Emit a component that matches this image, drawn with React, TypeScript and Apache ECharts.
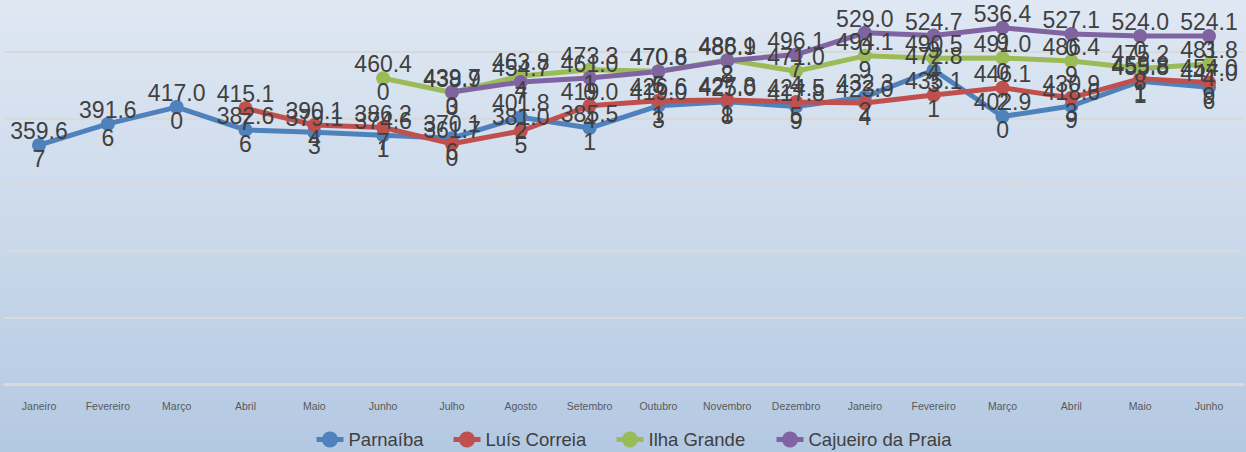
import React, { useEffect, useRef } from "react";
import * as echarts from "echarts";

const categories = [
  "Janeiro", "Fevereiro", "Março", "Abril", "Maio", "Junho", "Julho", "Agosto", "Setembro",
  "Outubro", "Novembro", "Dezembro", "Janeiro", "Fevereiro", "Março", "Abril", "Maio", "Junho",
];

const parnaiba = [359.67, 391.66, 417.0, 382.66, 379.13, 374.61, 370.16, 401.82, 385.51, 419.03, 425.08, 417.89, 432.32, 472.83, 402.9, 418.69, 455.81, 447.06];
const luisCorreia = [null, null, null, 415.17, 390.14, 386.27, 361.7, 381.05, 419.04, 426.61, 427.81, 424.55, 423.04, 435.11, 446.12, 430.93, 459.81, 454.09];
const ilhaGrande = [null, null, null, null, null, 460.4, 438.93, 463.84, 473.31, 470.86, 488.12, 471.04, 494.19, 490.54, 491.0, 486.49, 475.28, 481.84];
const cajueiro = [null, null, null, null, null, null, 439.7, 454.77, 461.0, 470.65, 486.98, 496.17, 529.0, 524.79, 536.49, 527.1, 524.0, 524.13];

const seriesNames = ["Parnaíba", "Luís Correia", "Ilha Grande", "Cajueiro da Praia"];
const seriesColors = ["#4F81BD", "#C0504D", "#9BBB59", "#8064A2"];
const seriesData = [parnaiba, luisCorreia, ilhaGrande, cajueiro];
const legendLefts = [314, 451, 614, 774];

const sans = "'Liberation Sans', Arial, sans-serif";
const OFFSET = 15; // chart canvas starts above the page so the 600 gridline is hidden

export default function App() {
  const ref = useRef<HTMLDivElement>(null);
  useEffect(() => {
    if (!ref.current) return;
    const chart = echarts.init(ref.current, null, { renderer: "svg" });
    chart.setOption({
      animation: false,
      grid: { left: 4.6, right: 2.6, top: 0.6, bottom: 68 },
      legend: seriesNames.map((n, i) => ({
        data: [n],
        left: legendLefts[i],
        top: 430 + OFFSET,
        padding: 0,
        itemWidth: 27,
        itemHeight: 20,
        itemGap: 6,
        lineStyle: { width: 5 },
        textStyle: { fontFamily: sans, fontSize: 18.5, color: "#404040" },
      })),
      xAxis: {
        type: "category",
        data: categories,
        boundaryGap: true,
        axisTick: { show: false },
        axisLine: { show: true, lineStyle: { color: "#d9d9d9", width: 3 } },
        axisLabel: { fontFamily: sans, fontSize: 10.5, color: "#595959", margin: 16, interval: 0 },
      },
      yAxis: {
        type: "value",
        min: 0,
        max: 600,
        interval: 100,
        axisLabel: { show: false },
        axisLine: { show: false },
        axisTick: { show: false },
        splitLine: { lineStyle: { color: "#d9d9d9", width: 2 } },
      },
      series: seriesData.map((d, i) => ({
        name: seriesNames[i],
        type: "line",
        data: d,
        color: seriesColors[i],
        symbol: "circle",
        symbolSize: 14,
        lineStyle: { width: 5, color: seriesColors[i] },
        itemStyle: { color: seriesColors[i] },
        label: {
          show: true,
          position: "inside",
          fontFamily: sans,
          fontSize: 23,
          lineHeight: 28,
          color: "#404040",
          formatter: (p: any) => {
            const v = p.value;
            if (v == null) return "";
            const s = Number(v).toFixed(2);
            return s.slice(0, -1) + "\n" + s.slice(-1);
          },
        },
      })),
    });
    return () => chart.dispose();
  }, []);
  return (
    <div
      style={{
        position: "fixed",
        left: 0,
        top: 0,
        width: 1246,
        height: 452,
        overflow: "hidden",
        background: "linear-gradient(to bottom, #dfe8f3 0%, #c9d8ea 55%, #b3c8e2 100%)",
      }}
    >
      <div
        ref={ref}
        style={{ position: "absolute", left: 0, top: -OFFSET, width: 1246, height: 452 + OFFSET }}
      />
    </div>
  );
}
